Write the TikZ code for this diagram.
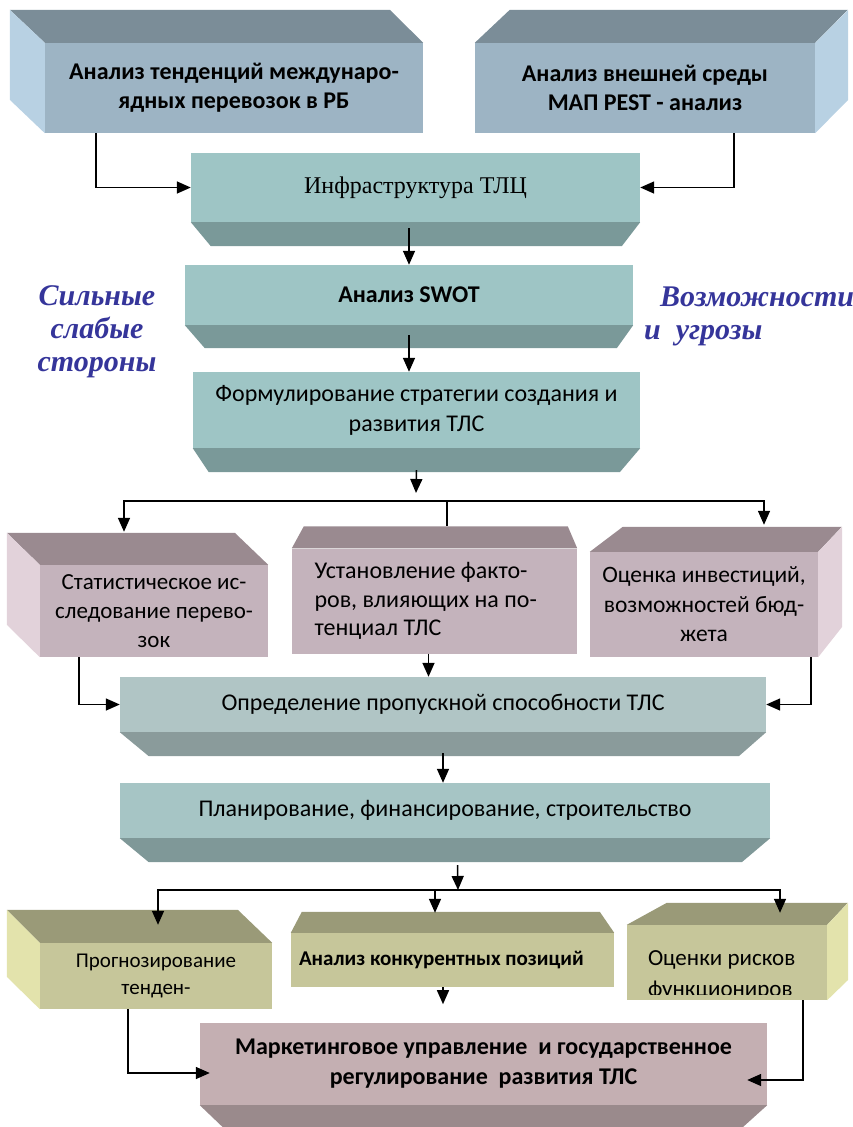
\documentclass[tikz,border=0pt]{standalone}
\usepackage{fontspec}
\setmainfont{Carlito}
\newfontfamily\timesfont{Liberation Serif}
\usetikzlibrary{arrows.meta,calc}

\definecolor{blueF}{HTML}{9DB4C4}
\definecolor{blueT}{HTML}{7B8D98}
\definecolor{blueS}{HTML}{B8D1E3}
\definecolor{tealF}{HTML}{9EC5C5}
\definecolor{tealB}{HTML}{7A9999}
\definecolor{pinkF}{HTML}{C4B3BC}
\definecolor{pinkT}{HTML}{9A8A90}
\definecolor{pinkS}{HTML}{E2D2DA}
\definecolor{grayF}{HTML}{B0C5C5}
\definecolor{grayB}{HTML}{8A9B9B}
\definecolor{aquaF}{HTML}{A6C5C5}
\definecolor{aquaB}{HTML}{7F9898}
\definecolor{oliveF}{HTML}{C6C69A}
\definecolor{oliveT}{HTML}{9A9A78}
\definecolor{oliveS}{HTML}{E3E3AC}
\definecolor{roseF}{HTML}{C4AFB2}
\definecolor{roseB}{HTML}{9A8A8C}
\definecolor{labelblue}{HTML}{35359A}

\begin{document}
\begin{tikzpicture}[x=1pt, y=-1pt,
    face/.style={rectangle, inner sep=0pt, align=center, font=\fontsize{24}{29}\selectfont},
    boldface/.style={face, font=\bfseries\fontsize{24}{29}\selectfont},
    arr/.style={-{Triangle[length=14pt,width=12pt]}, line width=1.5pt},
    line/.style={line width=1.5pt}]
  \tikzstyle{side} = [font=\timesfont\bfseries\itshape\fontsize{30}{33}\selectfont, color=labelblue, inner sep=0pt]
  \useasboundingbox (0,0) rectangle (853,1127);

  \node (trend) [boldface, fill=blueF, minimum width=378pt, minimum height=90pt] at (234,88)
    {Анализ тенденций междунаро-\\ядных перевозок в РБ};
  \node (pest) [boldface, fill=blueF, minimum width=340pt, minimum height=90pt] at (645,88)
    {Анализ внешней среды\\МАП PEST - анализ};
  \node (infra) [face, fill=tealF, minimum width=449pt, minimum height=69pt,
    font=\timesfont\fontsize{24}{28}\selectfont] at (415.5,187.5) {Инфраструктура ТЛЦ};
  \node (swot) [boldface, fill=tealF, minimum width=448pt, minimum height=60pt] at (409,295)
    {Анализ SWOT};
  \node (strat) [face, fill=tealF, minimum width=447pt, minimum height=76pt,
    font=\fontsize{24}{30}\selectfont] at (416.5,410)
    {Формулирование стратегии создания и\\развития ТЛС};

  \node (stat) [face, fill=pinkF, minimum width=228pt, minimum height=92pt,
    font=\fontsize{23}{29}\selectfont] at (154,611)
    {Статистическое ис-\\следование перево-\\зок};
  \node (factor) [face, fill=pinkF, minimum width=285pt, minimum height=105pt,
    text width=240pt, align=flush left, font=\fontsize{24}{28.5}\selectfont] at (434.5,601)
    {Установление факто-\\ров, влияющих на по-\\тенциал ТЛС};
  \node (invest) [face, fill=pinkF, minimum width=228pt, minimum height=105pt,
    font=\fontsize{23.5}{29.5}\selectfont] at (704,604.5)
    {Оценка инвестиций,\\возможностей бюд-\\жета};

  \node (capac) [face, fill=grayF, minimum width=646pt, minimum height=55pt] at (443,704.5)
    {Определение пропускной способности ТЛС};
  \node (plan) [face, fill=aquaF, minimum width=650pt, minimum height=55pt] at (445,810.5)
    {Планирование, финансирование, строительство};

  \node (forec) [face, fill=oliveF, minimum width=232pt, minimum height=66pt,
    font=\fontsize{21}{27}\selectfont] at (156,976) {Прогнозирование\\тенден-};
  \node (compet) [face, fill=oliveF, minimum width=323pt, minimum height=54pt,
    text width=307pt, align=flush left, font=\bfseries\fontsize{21}{25}\selectfont] at (452.5,960)
    {Анализ конкурентных позиций};
  \node (risk) [face, fill=oliveF, minimum width=200pt, minimum height=75pt] at (727,962.5) {};
  \begin{scope}
    \clip (risk.north west) rectangle ($(risk.south east)+(0,-6)$);
    \node (risktext) [face, text width=158pt, align=flush left, font=\fontsize{23}{31}\selectfont]
      at ($(risk.center)+(0,13)$) {Оценки рисков\\функциониров};
  \end{scope}

  \node (market) [boldface, fill=roseF, minimum width=567pt, minimum height=82pt,
    font=\bfseries\fontsize{24}{30}\selectfont] at (483.5,1064)
    {Маркетинговое управление\ \ и государственное\\регулирование\ \ развития ТЛС};

  \fill[blueT] (trend.north west) -- ++(-35,-33) -- ++(380,0) -- (trend.north east) -- cycle;
  \fill[blueS] (trend.north west) -- ++(-35,-33) -- ++(0,90) -- (trend.south west) -- cycle;
  \fill[blueT] (pest.north west) -- ++(35,-33) -- ++(338,0) -- (pest.north east) -- cycle;
  \fill[blueS] (pest.north east) -- ++(33,-33) -- ++(0,90) -- (pest.south east) -- cycle;
  \fill[tealB] (infra.south west) -- ++(20,24) -- ++(411,0) -- (infra.south east) -- cycle;
  \fill[tealB] (swot.south west) -- ++(20,23) -- ++(412,0) -- (swot.south east) -- cycle;
  \fill[tealB] (strat.south west) -- ++(16,24) -- ++(411,0) -- (strat.south east) -- cycle;
  \fill[pinkT] (stat.north west) -- ++(-33,-32) -- ++(228,0) -- (stat.north east) -- cycle;
  \fill[pinkS] (stat.north west) -- ++(-33,-32) -- ++(0,92) -- (stat.south west) -- cycle;
  \fill[pinkT] (factor.north west) -- ++(12,-22) -- ++(264,0) -- (factor.north east) -- cycle;
  \fill[pinkT] (invest.north west) -- ++(33,-25) -- ++(219,0) -- (invest.north east) -- cycle;
  \fill[pinkS] (invest.north east) -- ++(24,-25) -- ++(0,100) -- (invest.south east) -- cycle;
  \fill[grayB] (capac.south west) -- ++(29,24) -- ++(590,0) -- (capac.south east) -- cycle;
  \fill[aquaB] (plan.south west) -- ++(29,24) -- ++(593,0) -- (plan.south east) -- cycle;
  \fill[oliveT] (forec.north west) -- ++(-33,-33) -- ++(231,0) -- (forec.north east) -- cycle;
  \fill[oliveS] (forec.north west) -- ++(-33,-33) -- ++(0,67) -- (forec.south west) -- cycle;
  \fill[oliveT] (compet.north west) -- ++(11,-21) -- ++(298,0) -- (compet.north east) -- cycle;
  \fill[oliveT] (risk.north west) -- ++(40,-22) -- ++(181,0) -- (risk.north east) -- cycle;
  \fill[oliveS] (risk.north east) -- ++(21,-22) -- ++(0,77) -- (risk.south east) -- cycle;
  \fill[roseB] (market.south west) -- ++(23,22) -- ++(520,0) -- (market.south east) -- cycle;

  \node (strong) [side, align=center] at (97,332) {Сильные\\слабые\\стороны};
  \node (chance) [side, align=left, anchor=west] at (644,316) {\hspace*{16pt}Возможности\\и\ \ угрозы};

  \coordinate (split1) at (416,501);
  \coordinate (split2) at (458,890);

  \draw[arr] ($(trend.south)+(-138,0)$) |- (infra.west);
  \draw[arr] ($(pest.south)+(89,0)$) |- (infra.east);
  \draw[arr] ($(swot.north |- infra.south)+(0,6)$) -- (swot.north);
  \draw[arr] ($(swot.south)+(0,10)$) -- (swot.south |- strat.north);
  \draw[arr] ($(strat.south)+(0,22)$) -- ($(split1)+(0,-8)$);
  \draw[arr] (split1) -| ($(stat.north)+(-30,-33)$);
  \draw[arr] (split1) -| ($(invest.north)+(60,-27)$);
  \draw[line] (split1) -| ($(factor.north)+(12.5,-22)$);
  \draw[arr] ($(stat.south)+(-75,0)$) |- (capac.west);
  \draw[arr] ($(factor.south)+(-6,0)$) -- ($(factor.south |- capac.north)+(-6,0)$);
  \draw[arr] ($(invest.south)+(107,0)$) |- (capac.east);
  \draw[arr] ($(capac.south)+(0,21)$) -- (capac.south |- plan.north);
  \draw[arr] ($(plan.south)+(12.5,27)$) -- (split2);
  \draw[arr] (split2) -| ($(forec.north)+(2,-18)$);
  \draw[arr] (split2) -| ($(compet.north)+(-17.5,-20)$);
  \draw[arr] (split2) -| ($(risk.north)+(53,-12)$);
  \draw[arr] ($(forec.south)+(-28,0)$) |- ($(market.west)+(10,9)$);
  \draw[arr] ($(compet.south)+(-9.5,0)$) -- ($(compet.south)+(-9.5,17)$);
  \draw[arr] ($(risk.south)+(76,0)$) |- ($(market.east)+(-20,16)$);
\end{tikzpicture}
\end{document}
